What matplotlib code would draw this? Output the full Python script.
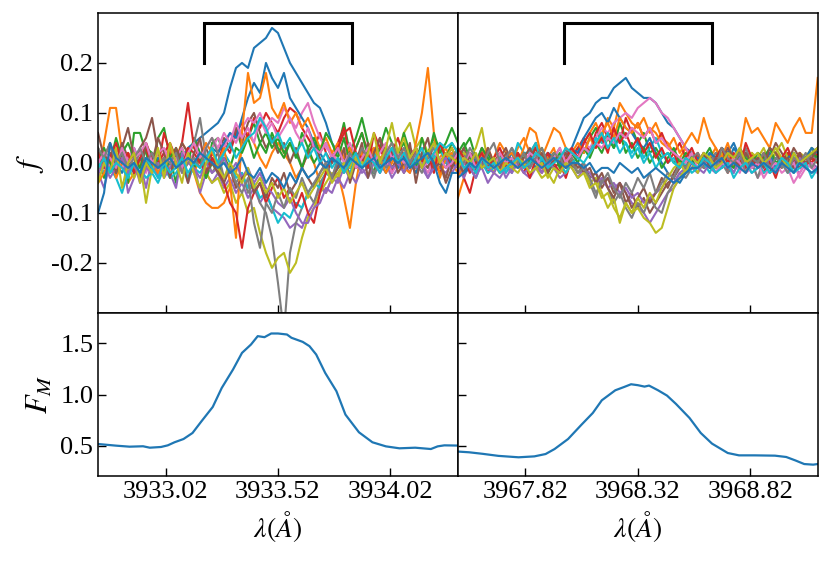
import numpy as np
import matplotlib
matplotlib.use('Agg')
import matplotlib.pyplot as plt

plt.rcParams['font.family'] = ['Liberation Serif', 'DejaVu Serif']
plt.rcParams['mathtext.fontset'] = 'stix'
plt.rcParams['axes.unicode_minus'] = False

# wavelength windows (Ca II K and H), 61 pixels each
k_lo, k_hi = 3932.72, 3934.32
h_lo, h_hi = 3967.52, 3969.12
n_pix = 61
k_ticks = [3933.02, 3933.52, 3934.02]
h_ticks = [3967.82, 3968.32, 3968.82]
f_ticks = [-0.2, -0.1, 0.0, 0.1, 0.2]
fm_ticks = [0.5, 1.0, 1.5]

# residual spectra around K, in units of 0.01
k01 = [1, -1, 2, 0, -2, 1, 3, 0, -1, 2, 0, 1, -1, 2, 1, 3, 4, 5, 6, 7,
       8, 10, 15, 19, 20, 19, 23, 24, 25, 27, 26, 23, 20, 18, 16, 14, 12, 11, 8, 4,
       2, 1, -1, 0, 2, -1, 1, 0, -2, 1, 0, 2, -1, 1, 0, -1, 2, 1, 0, -1, 1]
k02 = [-3, 4, 11, 11, 2, -4, -2, 1, 3, -1, 2, 0, -3, 1, 4, 2, -2, -6, -8, -9,
       -9, -8, -5, -2, 3, 6, 4, 1, -1, 2, 4, 2, 0, -3, -1, 2, 0, -4, -6, -3,
       -2, -7, -13, -4, 3, 0, -2, 1, 2, -1, 0, 3, 1, -2, 0, 2, -1, 1, 3, 0, -2]
k03 = [2, -3, 0, 5, 1, -4, 6, 6, 2, -2, 5, 7, 1, -4, 3, 0, 5, 2, -3, 4,
       5, 2, 4, 7, 3, 5, 8, 4, 6, 3, 5, 2, 4, 1, 6, 3, 0, 2, 4, 1,
       3, 8, 2, 5, 9, 4, 2, 3, 3, 1, 2, 4, 1, 3, 0, 2, 5, 3, 1, 4, 2]
k04 = [0, 2, -1, 3, 1, -2, 2, 0, 4, 1, -1, 6, 2, 0, 4, 12, 3, 1, -2, 2,
       0, 4, 2, 6, 8, 5, 9, 7, 10, 8, 6, 9, 11, 10, 7, 5, 3, 6, 2, 0,
       4, 7, 1, 3, 6, 2, 0, 3, 1, -2, 2, 0, 3, 1, -1, 2, 0, -2, 1, 3, 0]
k05 = [-2, -5, 0, -3, 2, -6, -3, 0, -5, 1, -3, 0, -2, -5, 2, -4, 0, -6, -2, -4,
       -2, -5, -3, -6, -4, -7, -5, -8, -6, -9, -10, -11, -13, -12, -13, -10, -8, -5, -6, -3,
       -4, -1, -3, 0, -2, -1, 1, -2, 0, -3, -1, 0, -2, 1, -1, -3, 0, -1, -2, 0, 1]
k06 = [3, 0, 2, -1, 4, 1, -2, 3, 5, 9, 2, -1, 3, 0, 4, 2, -1, 1, 3, 0,
       2, 5, 3, 7, 4, 8, 10, 6, 3, 5, 2, 4, 0, 3, -1, 2, 4, 1, -2, 0,
       3, 1, -1, 2, 0, 4, 1, 5, 2, -1, 1, -2, 0, 3, 1, -1, 2, 0, -3, 1, 2]
k07 = [1, -2, 0, 2, -1, 1, 3, 0, -2, 1, 0, 2, -1, 1, 3, 0, 2, 4, 1, 3,
       5, 3, 6, 4, 7, 9, 8, 10, 7, 9, 8, 11, 9, 7, 10, 12, 8, 5, 3, 2,
       0, 2, 4, 1, -1, 2, 0, 3, 1, -2, 0, 1, -1, 2, 0, -2, 1, 0, 2, -1, 0]
k08 = [2, 0, -2, 1, 3, -1, 0, 2, -1, 1, -2, 0, 3, 1, -1, 2, 4, 9, 1, -2,
       0, -3, -1, -4, -2, -6, -4, -8, -10, -15, -24, -34, -18, -12, -9, -6, -8, -4, -2, -3,
       0, -2, 1, -1, 2, 0, -3, 1, -1, 0, 2, -1, 1, 0, -2, 1, 3, 0, -1, 2, 0]
k09 = [-1, 1, -2, 0, 2, -1, -3, 0, -8, -1, 1, -2, 0, 2, -1, -3, 0, 1, -2, -4,
       -3, -6, -4, -8, -6, -10, -9, -14, -18, -21, -19, -18, -22, -20, -15, -11, -9, -6, -4, -2,
       -3, 0, -1, 2, 0, 1, 3, 0, 2, 4, 2, 6, 8, 3, 5, 2, 0, 4, 1, 3, 0]
k10 = [0, -2, -1, -3, -6, -2, 0, -1, -3, -2, -4, -1, -3, -2, 0, -3, -1, -2, 0, 1,
       -1, 2, 0, -3, -2, -5, -4, -7, -6, -9, -12, -10, -11, -8, -9, -6, -4, -5, -2, -3,
       -1, 0, -2, 1, -1, 0, 2, -1, 1, 3, 0, 2, 1, -1, 2, 0, 1, 3, 0, 2, 1]
k11 = [-2, 0, 1, -1, 2, 0, -2, 1, 0, -1, 1, -1, 0, 2, -1, 1, 0, 2, 1, 3,
       2, 4, 6, 5, 9, 13, 16, 14, 20, 17, 15, 18, 13, 11, 9, 7, 4, 2, 0, 1,
       -1, 0, 2, -1, 1, 0, -2, 1, 0, 2, -1, 1, 0, -2, 1, 2, 0, -1, 1, 0, -1]
k12 = [-4, -2, 1, -3, 0, 2, -1, -3, 1, 0, -2, 1, 3, -1, 0, 2, -2, 1, 4, 2,
       0, 3, -4, -15, 6, 18, 12, 13, 18, 11, 9, 12, 8, 10, 7, 9, 6, 3, 5, 2,
       4, 1, 3, -1, 2, 0, 3, 1, -2, 0, 2, -1, -2, 4, 10, 19, 6, -3, 1, 2, -1]
k13 = [1, 3, 0, -2, 2, 4, 1, -1, 3, 2, 0, -2, 1, 3, 0, 2, -1, 1, -3, 0,
       -2, 1, -1, 3, 2, 5, 1, 4, 2, 6, 3, 1, 4, 2, -1, 3, 5, 2, 6, 4,
       1, 5, 0, 3, 6, 1, -2, 3, 7, 4, 1, 6, 2, -1, 5, 1, 6, 2, 4, 7, 4]
k14 = [2, -1, 1, 4, 0, 2, -2, 1, 3, -1, 0, 2, 4, 1, -1, 3, 2, 0, -2, 1,
       -1, -4, -8, -10, -17, -9, -6, -4, -8, -5, -3, -7, -5, -9, -6, -10, -12, -6, -2, 1,
       3, 6, 7, 2, 1, -1, 6, 3, 0, 2, 5, 1, -1, 3, 0, 2, -2, 4, 1, -1, 2]
k15 = [-2, 0, -3, -1, 1, -2, 0, -4, -1, -2, 0, -3, -1, 1, -2, 0, -1, -3, 0, -2,
       -1, 1, -2, 0, -3, -1, -4, -2, -5, -6, -8, -9, -7, -10, -12, -12, -9, -8, -5, -6,
       -3, -5, -2, -4, -1, -3, 0, -2, 1, -1, 0, -2, 1, -1, 0, -3, -1, 0, 1, -2, 0]
k16 = [6, 1, 4, -2, 3, 7, 1, -3, 4, 0, 5, 2, -3, 3, 0, -4, 2, 5, -2, 0,
       -2, -4, -1, -5, -3, -2, -6, -4, -7, -3, -5, -2, -6, -4, -1, -3, -5, -2, 0, -3,
       -1, 3, -4, 0, 4, -3, 2, 5, 0, 3, -2, 0, 4, -4, 2, 5, -1, 0, -4, -1, 3]
k17 = [0, 2, 1, -1, 3, 0, 1, 2, 4, 0, 2, 3, 0, 1, -1, 2, 4, 1, 3, 5,
       3, 6, 4, 8, 5, 7, 4, 9, 6, 8, 5, 7, 9, 6, 4, 7, 3, 2, 4, 1,
       3, 0, 2, -1, 1, 3, 0, 2, 4, 1, 2, 0, 1, 3, -1, 0, 2, 1, -1, 0, 2]
k18 = [3, 1, 4, 0, 2, -1, 1, 3, 0, 2, -1, 1, 0, 2, -2, 0, 1, -1, 3, 5,
       2, -3, -1, -4, -6, -3, -12, -17, -8, -10, -6, -9, -5, -7, -3, -6, -4, -2, 0, -3,
       1, -1, 2, 0, 3, 1, -2, 0, 2, 4, 1, 3, 0, 2, -1, 1, 4, 0, 2, 1, 3]
k19 = [-4, 0, -2, 3, -5, 0, 2, -4, 0, -2, 3, -3, 4, 0, -4, 2, -2, -5, 0, 3,
       -1, -3, 0, -2, -4, -1, -5, -3, -6, -4, -7, -5, -8, -6, -4, -7, -5, -3, -1, -4,
       -2, 0, -3, 1, -1, 2, 6, 0, 3, 8, 2, 5, 1, 3, -1, 2, 4, 0, 2, 1, 0]
k20 = [-1, 1, -2, 0, -1, -3, 0, -2, 1, -1, -3, 0, -2, -1, 1, -2, 0, -1, 1, 3,
       0, 2, 4, 1, 3, 5, 6, 9, 7, 4, 6, 3, 5, 2, 4, 1, 3, 0, 2, -1,
       1, -2, 0, 2, -1, 1, 0, -2, 1, 3, 0, 2, -1, 1, 3, 0, 2, 4, 3, 4, 2]
k21 = [-10, -6, 4, 1, 0, -1, 0, -2, 1, 0, -1, 0, 1, -1, 0, 1, 0, 2, 1, 0,
       -1, 0, -2, -1, 1, -2, -3, -1, -4, -2, -3, -5, -2, -4, -1, -3, -2, 0, -1, 1,
       0, -1, 1, 0, -1, 0, 1, -1, 0, 1, 0, 1, -1, 0, 1, 2, 0, -4, -6, -2, -2]

# residual spectra around H, in units of 0.01
h01 = [-2, 0, 1, -1, 0, 2, -1, 1, 0, -2, 1, 0, -1, 2, 0, 1, -1, 0, 2, 3,
       6, 9, 10, 12, 13, 13, 15, 16, 17, 15, 14, 13, 13, 12, 10, 8, 7, 5, 3, 2,
       1, 0, 2, -1, 1, 0, 3, 1, -1, 0, 2, 0, -1, 1, 0, 2, -1, 0, 1, 3, 1]
h02 = [-7, -3, 2, 0, 3, -1, 1, 4, 2, 0, 3, 5, 2, 0, -2, 1, 3, -1, 0, 2,
       1, 4, 6, 8, 5, 9, 7, 12, 10, 8, 7, 9, 6, 8, 5, 4, 2, 1, 3, 0,
       2, -1, 1, 3, 0, 2, -1, 1, 0, 2, -1, 1, 0, 2, 1, -1, 0, 2, 1, 0, 2]
h03 = [0, 3, 5, 1, -1, 2, 0, -2, 1, 0, 2, -1, 0, 3, 1, -2, 0, 2, -1, 1,
       3, 2, 5, 7, 4, 6, 3, 8, 5, 7, 4, 6, 2, 3, 1, 2, 0, 1, -1, 2,
       0, 1, 3, 0, -1, 2, 1, 0, 2, -1, 1, 0, -2, 1, 0, 2, 1, -1, 0, 1, 0]
h04 = [2, -3, -6, -1, 1, -2, 0, 2, -1, 1, 0, -2, 1, 3, 0, -1, 2, 0, -3, 1,
       3, 5, 2, 6, 8, 5, 7, 4, 9, 6, 8, 5, 7, 4, 6, 3, 2, 4, 1, 0,
       2, -1, 1, 0, 2, -2, 0, 1, -1, 2, 0, -2, 1, 0, -1, 2, 0, -1, 1, 0, 2]
h05 = [-1, -3, 0, -2, -1, -4, -2, -3, -1, -2, 0, -2, -3, -1, -2, 0, -1, -3, -2, 0,
       -2, -1, -3, -2, -4, -3, -5, -4, -6, -8, -9, -10, -12, -10, -8, -6, -5, -3, -2, -1,
       -2, 0, -1, -2, 0, -1, 1, -1, 0, -2, -1, 0, -2, -1, 1, 0, -1, -2, 0, -1, -2]
h06 = [1, 3, 0, -1, 2, 0, -2, 1, 3, 0, 2, -1, 1, 4, 0, 2, -1, 0, 3, 1,
       -1, 0, -3, -2, -5, -3, -6, -4, -8, -6, -9, -7, -10, -8, -6, -4, -3, -1, 0, 2,
       1, -1, 0, 2, 1, -1, 0, 3, 1, -1, 0, 2, 1, 4, 2, 0, 3, 1, -1, 2, 3]
h07 = [0, -1, 1, 0, 2, -1, 0, 1, -2, 0, 1, -1, 0, 2, 0, -1, 1, 0, 2, 1,
       2, 4, 3, 5, 7, 6, 8, 9, 10, 9, 11, 12, 13, 12, 10, 9, 7, 5, 3, 1,
       0, 1, -1, 0, 2, -1, 0, -2, 1, 0, -3, -1, 0, -2, 1, -1, -4, -2, 0, -1, -2]
h08 = [1, 2, -1, 0, 3, 1, -1, 2, 0, 3, 1, -1, 2, 4, 0, 2, 1, 3, -1, 1,
       -2, 0, -4, -7, -3, -5, -8, -6, -9, -11, -8, -10, -7, -9, -10, -6, -4, -2, -3, -1,
       1, -1, 0, 2, 0, -2, 1, -1, 3, 0, -3, 1, 0, 2, -1, 0, -2, 1, 0, 2, 0]
h09 = [0, 2, 1, 3, 7, 0, -2, 1, 0, -1, -2, 0, 1, -1, -3, -2, -4, -1, -2, 0,
       -2, -1, -4, -3, -6, -9, -7, -12, -8, -10, -9, -11, -12, -14, -13, -9, -5, -3, -1, 0,
       -2, 1, 0, -1, 2, 0, 1, -1, 0, 2, 1, 3, 0, 2, 4, 1, 0, 2, 1, 3, 2]
h10 = [1, -2, -1, -3, 0, -2, -1, 1, -2, 0, 4, 2, 2, 4, 0, -1, 1, 0, -2, 0,
       1, 3, 2, 5, 4, 6, 3, 5, 4, 2, 4, 1, 3, 5, 2, 0, 1, -1, 0, -2,
       -1, 0, -2, 1, -1, 0, -2, 1, 0, -1, 0, -2, -1, 1, 0, -2, -1, 0, -1, -2, -1]
h11 = [0, -2, -1, 1, -1, 0, 1, -1, 0, 2, -1, 0, 1, -1, 0, 2, 1, 0, 1, 3,
       2, 5, 7, 9, 10, 8, 11, 9, 7, 6, 4, 3, 5, 2, 0, -2, -3, -4, -2, 0,
       1, 0, 2, 1, 3, 2, 4, 1, 0, -1, 1, 0, 2, -1, 0, 1, 2, 0, 1, 3, 2]
h12 = [-3, 0, 2, -1, 1, 3, 0, -2, 1, 2, 0, 3, 7, 6, 1, 4, 7, 6, 3, 2,
       4, 2, 5, 3, 6, 8, 5, 9, 7, 6, 8, 5, 7, 6, 4, 3, 5, 2, 4, 6,
       4, 9, 5, 3, 1, 4, 0, 2, 9, 6, 7, 5, 3, 8, 6, 4, 7, 9, 6, 6, 17]
h13 = [2, 4, 1, 0, 3, 1, -1, 2, 0, 1, -1, 2, 0, 1, 3, 0, 2, -1, 1, 2,
       0, 3, 1, 4, 2, 5, 3, 6, 2, 4, 1, 3, 0, 2, -1, 1, 3, 0, 2, 1,
       -1, 2, 0, 1, 3, 0, -1, 2, 1, 0, 2, 1, 3, 0, 1, -1, 2, 0, 1, 2, 1]
h14 = [3, 1, -2, 0, 2, -1, 1, 3, 0, -1, 2, 0, -3, 1, -1, 2, 0, -2, 1, 3,
       1, 4, 6, 3, 5, 2, 7, 4, 6, 3, 5, 2, 4, 1, 3, 0, 2, -1, 1, 3,
       0, 2, -1, 1, 3, 0, 2, -1, 4, 1, -1, 2, 0, -3, 1, 3, 0, 2, -1, 1, 0]
h15 = [-2, 0, -1, -3, 0, -1, -2, 0, -3, -1, 0, -2, -1, 1, -2, 0, -1, -2, 0, -1,
       -3, -1, -2, -4, -3, -5, -4, -6, -5, -7, -6, -8, -7, -6, -5, -3, -4, -2, -1, 0,
       -1, -2, 0, 1, -1, 0, -2, 1, 0, -1, 0, -1, 1, -2, 0, -1, 0, 1, -1, 0, -1]
h16 = [0, -2, 2, 1, -1, 3, 0, -1, 2, 0, -1, 1, 3, 0, 2, -2, 1, 0, 2, -1,
       0, -2, -1, -4, -2, -5, -7, -4, -6, -9, -7, -5, -8, -6, -3, -5, -2, 0, -1, 1,
       0, 2, -1, 1, 0, 3, 1, -1, 2, 0, 1, -1, 3, 2, 0, 1, -1, 2, 0, 1, 3]
h17 = [1, 0, 2, -1, 1, 0, -1, 2, 0, 1, -1, 0, 2, 1, -1, 0, 1, 3, 0, 2,
       1, 3, 2, 4, 3, 5, 4, 6, 5, 7, 6, 5, 7, 4, 5, 3, 2, 1, 0, 2,
       -1, 0, 1, -2, 0, -1, 1, 0, -2, -1, 0, -3, -1, 0, -2, -1, 0, -3, -1, 0, -2]
h18 = [2, 0, 3, 1, -1, 2, 4, 0, 1, 3, 0, 2, -1, 1, 3, 0, 2, 1, -1, 0,
       -2, -1, -3, -6, -4, -2, -5, -7, -4, -6, -3, -5, -2, -6, -4, -2, -3, 0, -1, 1,
       2, 0, 1, -1, 3, 1, 0, 2, -2, 1, 0, 2, -1, 1, 0, -2, 1, 0, 2, -1, 1]
h19 = [-1, 1, 0, 2, -1, 0, 1, -2, 0, -1, 1, 0, -2, -1, 0, -3, -1, -2, 0, -1,
       -3, -2, -5, -4, -7, -6, -9, -11, -8, -10, -7, -9, -6, -8, -5, -3, -1, 0, -2, 1,
       0, 2, 1, -1, 0, 2, 1, 3, 0, 1, 2, 0, 1, 3, 1, -1, 2, 0, 1, 2, 3]
h20 = [2, -1, 0, -2, 1, -1, 0, -2, -1, 0, 1, -1, 0, 2, 1, -1, 0, 1, 3, 2,
       1, 0, 2, 4, 6, 3, 5, 2, 4, 1, 3, 0, 2, -1, 1, 2, 0, -1, 1, 0,
       -1, 1, 0, -2, -1, 0, -3, -1, 0, -2, -1, 0, -2, -1, 1, 0, -2, -1, 0, -3, -1]
h21 = [-3, -2, 0, -1, 1, 0, -1, 0, 1, 0, -1, 0, 1, 0, -1, 0, 1, 0, -1, 0,
       0, -1, 0, -2, -1, -1, -2, 0, -1, -2, -1, -3, -2, -1, -2, -3, -4, -3, -2, -1,
       -1, 0, -1, 0, 1, -1, 0, -1, -2, 0, -1, 0, -1, -2, 0, -1, -2, 0, -1, -2, -1]

k_lines = [k01, k02, k03, k04, k05, k06, k07, k08, k09, k10, k11,
           k12, k13, k14, k15, k16, k17, k18, k19, k20, k21]
h_lines = [h01, h02, h03, h04, h05, h06, h07, h08, h09, h10, h11,
           h12, h13, h14, h15, h16, h17, h18, h19, h20, h21]

# mean profiles F_M
k_wave = [3932.70, 3932.80, 3932.86, 3932.92, 3932.95, 3933.00, 3933.03, 3933.06,
          3933.10, 3933.14, 3933.18, 3933.23, 3933.27, 3933.32, 3933.36, 3933.40,
          3933.43, 3933.46, 3933.49, 3933.52, 3933.56, 3933.58, 3933.63, 3933.66,
          3933.69, 3933.73, 3933.78, 3933.82, 3933.88, 3933.94, 3934.00, 3934.06,
          3934.13, 3934.20, 3934.23, 3934.26, 3934.34]
k_flux = [0.52, 0.50, 0.49, 0.494, 0.48, 0.487, 0.503, 0.533,
          0.565, 0.624, 0.739, 0.879, 1.065, 1.245, 1.408, 1.49,
          1.572, 1.562, 1.598, 1.598, 1.588, 1.556, 1.516, 1.474,
          1.392, 1.212, 1.033, 0.804, 0.631, 0.533, 0.493, 0.474,
          0.48, 0.467, 0.493, 0.503, 0.50]
h_wave = [3967.50, 3967.57, 3967.63, 3967.70, 3967.79, 3967.86, 3967.91, 3967.95,
          3968.01, 3968.07, 3968.12, 3968.16, 3968.22, 3968.26, 3968.29, 3968.32,
          3968.35, 3968.37, 3968.41, 3968.45, 3968.49, 3968.55, 3968.60, 3968.65,
          3968.72, 3968.77, 3968.84, 3968.93, 3968.98, 3969.02, 3969.06, 3969.10,
          3969.14]
h_flux = [0.445, 0.435, 0.42, 0.40, 0.386, 0.395, 0.418, 0.467,
          0.565, 0.706, 0.82, 0.944, 1.042, 1.075, 1.101, 1.092,
          1.078, 1.088, 1.042, 0.99, 0.908, 0.771, 0.624, 0.52,
          0.428, 0.405, 0.405, 0.402, 0.389, 0.356, 0.32, 0.314,
          0.326]

k_grid = np.linspace(k_lo, k_hi, n_pix)
h_grid = np.linspace(h_lo, h_hi, n_pix)

fig = plt.figure(figsize=(8.31, 5.63), dpi=100)
gs = fig.add_gridspec(2, 2, left=0.118, right=0.984, top=0.977, bottom=0.154,
                      wspace=0, hspace=0, height_ratios=[300, 163.5])
ax_k = fig.add_subplot(gs[0, 0])
ax_h = fig.add_subplot(gs[0, 1], sharey=ax_k)
ax_km = fig.add_subplot(gs[1, 0], sharex=ax_k)
ax_hm = fig.add_subplot(gs[1, 1], sharex=ax_h, sharey=ax_km)

for line in k_lines:
    ax_k.plot(k_grid, np.array(line) / 100., lw=1.5)
for line in h_lines:
    ax_h.plot(h_grid, np.array(line) / 100., lw=1.5)

ax_km.plot(k_wave, k_flux, color='C0', lw=1.6)
ax_hm.plot(h_wave, h_flux, color='C0', lw=1.6)

# integration window brackets
for ax, c in [(ax_k, 3933.52), (ax_h, 3968.32)]:
    ax.plot([c - 0.33, c - 0.33, c + 0.33, c + 0.33], [0.2, 0.28, 0.28, 0.2],
            color='k', lw=2.2, solid_joinstyle='miter')

ax_k.set_xlim(k_lo, k_hi)
ax_h.set_xlim(h_lo, h_hi)
ax_k.set_ylim(-0.3, 0.3)
ax_km.set_ylim(0.2, 1.8)

ax_k.set_yticks(f_ticks)
ax_k.set_yticklabels(['%.1f' % t for t in f_ticks])
ax_km.set_yticks(fm_ticks)
ax_km.set_yticklabels(['%.1f' % t for t in fm_ticks])
ax_km.set_xticks(k_ticks)
ax_km.set_xticklabels(['%.2f' % t for t in k_ticks])
ax_hm.set_xticks(h_ticks)
ax_hm.set_xticklabels(['%.2f' % t for t in h_ticks])

for ax in [ax_k, ax_h, ax_km, ax_hm]:
    ax.tick_params(direction='in', length=5.5, width=1.0, labelsize=19)
    for sp in ax.spines.values():
        sp.set_linewidth(1.1)
plt.setp(ax_k.get_xticklabels(), visible=False)
plt.setp(ax_h.get_xticklabels(), visible=False)
plt.setp(ax_h.get_yticklabels(), visible=False)
plt.setp(ax_hm.get_yticklabels(), visible=False)

ax_k.set_ylabel(r'$f$', fontsize=22)
ax_km.set_ylabel(r'$F_M$', fontsize=22)
ax_km.set_xlabel(r'$\lambda(\AA)$', fontsize=20)
ax_hm.set_xlabel(r'$\lambda(\AA)$', fontsize=20)

plt.savefig('out.png', dpi=100)
